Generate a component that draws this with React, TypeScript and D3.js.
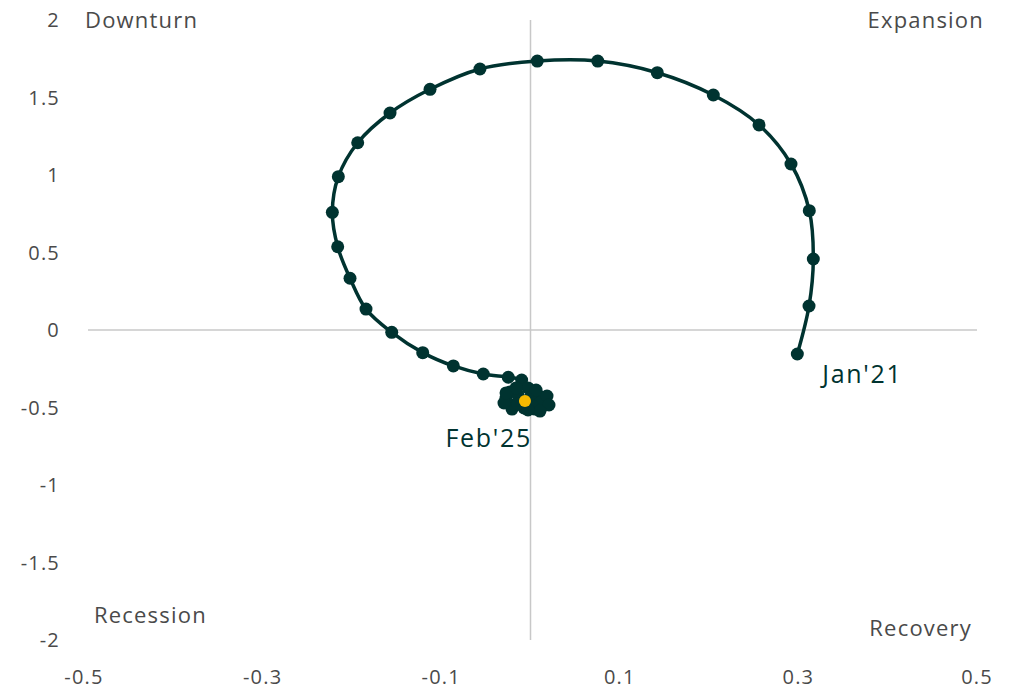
import React from "react";
import * as d3 from "d3";

const growthX: number[] = [
  0.2988, 0.3119, 0.3167, 0.3122, 0.2917, 0.2559, 0.2047, 0.142, 0.0753, 0.0076,
  -0.0566, -0.1125, -0.1573, -0.1935, -0.2152, -0.2219, -0.2159, -0.2021, -0.1842, -0.1554,
  -0.1207, -0.0864, -0.0529, -0.0249, -0.0099,
  -0.0028, 0.005, 0.0151, 0.014, 0.005, -0.0073, -0.0207, -0.0274, -0.023, -0.014,
  -0.0006, 0.0106, 0.0017, -0.0095,
  -0.0207, -0.0297, -0.0274, -0.0162, 0.0062, 0.0185, 0.0207, 0.0106, -0.0028, -0.014,
  -0.0062,
];
const momentumY: number[] = [
  -0.155, 0.155, 0.458, 0.77, 1.071, 1.323, 1.516, 1.66, 1.735, 1.735,
  1.684, 1.553, 1.4, 1.208, 0.989, 0.759, 0.537, 0.334, 0.135, -0.015,
  -0.146, -0.232, -0.284, -0.305, -0.323,
  -0.374, -0.406, -0.439, -0.49, -0.51, -0.503, -0.484, -0.439, -0.4, -0.419,
  -0.439, -0.471, -0.49, -0.484,
  -0.51, -0.471, -0.406, -0.374, -0.387, -0.426, -0.484, -0.523, -0.516, -0.477,
  -0.458,
];
const xTicks: number[] = [-0.5, -0.3, -0.1, 0.1, 0.3, 0.5];
const yTicks: number[] = [2, 1.5, 1, 0.5, 0, -0.5, -1, -1.5, -2];
const quadrantLabels = ["Downturn", "Expansion", "Recession", "Recovery"];
const firstLabel = "Jan'21";
const lastLabel = "Feb'25";

const W = 1022;
const H = 691;
const FONT = "'Open Sans', sans-serif";
const DARK = "#003330";
const GRID = "#c8c8c8";
const TXT = "#4a4a4a";

export default function App() {
  const x = d3.scaleLinear().domain([-0.5, 0.5]).range([84, 977]);
  const y = d3.scaleLinear().domain([-2, 2]).range([640, 20]);
  const pts: [number, number][] = growthX.map((v, i) => [x(v), y(momentumY[i])]);
  const line = d3.line().curve(d3.curveCatmullRom.alpha(0.5))(pts) || "";
  const last = pts[pts.length - 1];
  const first = pts[0];
  const tickStyle = { fontSize: 20, fill: TXT, fontFamily: FONT, letterSpacing: 1.2 } as const;
  const quadStyle = { fontSize: 22, fill: TXT, fontFamily: FONT, letterSpacing: 1.2 } as const;
  const ptStyle = { fontSize: 25, fill: DARK, fontFamily: FONT, letterSpacing: 1.7 } as const;

  return (
    <div style={{ position: "absolute", left: 0, top: 0 }}>
      <svg width={W} height={H} style={{ display: "block", background: "#fff" }}>
        <line x1={88} x2={977} y1={y(0)} y2={y(0)} stroke={GRID} strokeWidth={1.5} />
        <line x1={x(0)} x2={x(0)} y1={y(2)} y2={y(-2)} stroke={GRID} strokeWidth={1.5} />
        {yTicks.map((t) => (
          <text key={"y" + t} x={60} y={y(t)} dy="0.35em" textAnchor="end" {...tickStyle}>
            {String(t)}
          </text>
        ))}
        {xTicks.map((t) => (
          <text key={"x" + t} x={x(t)} y={677} dy="0.35em" textAnchor="middle" {...tickStyle}>
            {String(t)}
          </text>
        ))}
        <text x={85} y={20} dy="0.35em" {...quadStyle}>{quadrantLabels[0]}</text>
        <text x={984} y={20} dy="0.35em" textAnchor="end" {...quadStyle}>{quadrantLabels[1]}</text>
        <text x={94} y={615} dy="0.35em" {...quadStyle}>{quadrantLabels[2]}</text>
        <text x={972} y={628} dy="0.35em" textAnchor="end" {...quadStyle}>{quadrantLabels[3]}</text>
        <path d={line} fill="none" stroke={DARK} strokeWidth={3.5} />
        {pts.slice(0, -1).map((p, i) => (
          <circle key={i} cx={p[0]} cy={p[1]} r={6.5} fill={DARK} />
        ))}
        <circle cx={last[0]} cy={last[1]} r={6} fill="#f5b800" />
        <text x={first[0] + 25} y={first[1] + 20} dy="0.35em" {...ptStyle}>{firstLabel}</text>
        <text x={last[0] + 7} y={last[1] + 37} dy="0.35em" textAnchor="end" {...ptStyle}>{lastLabel}</text>
      </svg>
    </div>
  );
}
